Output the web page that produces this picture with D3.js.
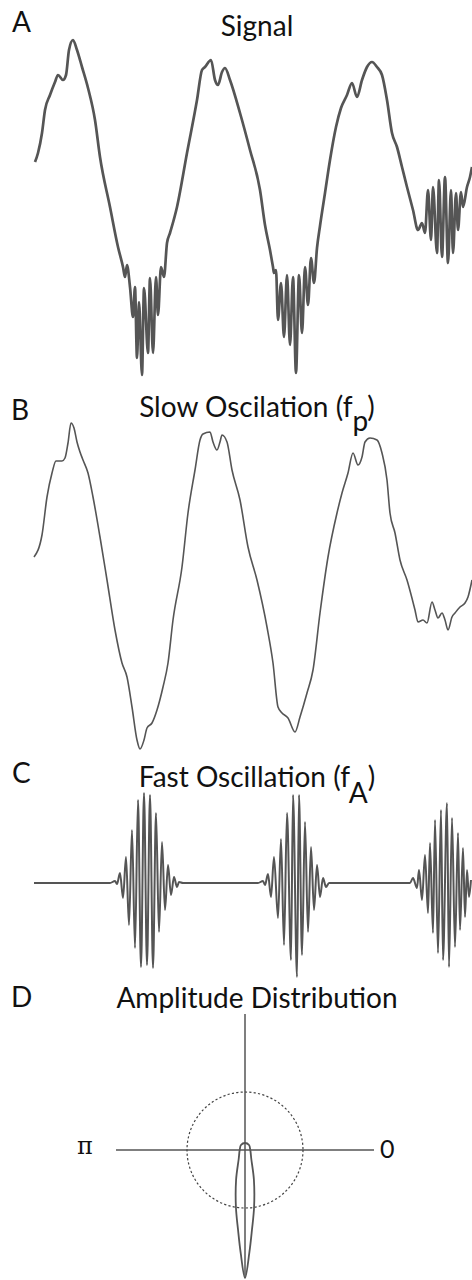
<!DOCTYPE html>
<html>
<head>
<meta charset="utf-8">
<script src="https://cdn.jsdelivr.net/npm/d3@7"></script>
<style>
  body { margin: 0; background: #fff; }
  svg { display: block; }
  .panel-letter { font-family: Lato, "Open Sans", sans-serif; font-size: 28px; fill: #111; }
  .panel-title { font-family: Lato, "Open Sans", sans-serif; font-size: 28px; fill: #111; text-anchor: middle; }
  .trace { fill: none; stroke: #555; stroke-linejoin: round; }
</style>
</head>
<body>
<div id="chart"></div>
<script>
// ---- data (time in samples, amplitude in arbitrary units) ----

// A: raw signal
const signalT = [1, 4, 8, 11, 16, 21, 24, 29, 32, 35, 39, 43, 48, 54, 61, 66, 76, 84, 89, 91, 93,
  96, 99, 101, 103, 105, 108, 110, 114, 116, 119, 122, 124, 127, 130, 133, 136, 143, 153, 163, 168,
  171, 177, 181, 184, 188, 191, 196, 206, 216, 226, 231, 236, 239, 240, 242, 244, 247, 250, 253,
  256, 259, 262, 265, 268, 271, 274, 277, 280, 283, 286, 291, 296, 302, 307, 313, 318, 323, 328,
  333, 338, 343, 348, 353, 358, 363, 368, 373, 379, 384, 388, 391, 394, 397, 399, 403, 405, 408,
  411, 414, 417, 419, 422, 424, 427, 429, 433, 436, 438];
const signalV = [45, 54, 74, 97, 112, 125, 132, 127, 132, 157, 167, 157, 140, 119, 87, 50, 0, -40, -60, -70, -58,
  -80, -110, -80, -151, -95, -168, -81, -146, -71, -146, -70, -108, -60, -70, -36, -26, 0, 54, 107, 137,
  140, 147, 127, 122, 135, 139, 127, 94, 57, 17, -18, -43, -60, -66, -63, -113, -76, -130, -68,
  -138, -70, -166, -68, -126, -60, -98, -51, -76, -41, -19, 14, 47, 80, 99, 112, 124, 110, 127,
  140, 145, 140, 132, 107, 74, 60, 40, 20, -3, -23, -16, -26, 17, -33, 20, -46, 27, -50,
  30, -56, 17, -46, 14, -23, 15, 0, 20, 30, 40];

// B: slow oscillation (f_p)
const slowT = [0, 8, 13, 18, 22, 28, 31, 34, 37, 40, 43, 46, 49, 54, 59, 66, 73, 81, 88, 93, 98, 103,
  106, 110, 113, 118, 123, 129, 134, 139, 148, 154, 161, 166, 169, 176, 179, 183, 186, 188, 193,
  198, 206, 214, 223, 233, 239, 244, 248, 254, 261, 266, 273, 279, 286, 294, 303, 308, 314, 319,
  324, 328, 331, 336, 343, 348, 353, 356, 361, 366, 373, 381, 384, 389, 393, 398, 401, 404, 408,
  411, 414, 418, 421, 426, 431, 434, 438];
const slowV = [29, 51, 89, 113, 125, 125, 128, 143, 163, 158, 144, 134, 126, 113, 89, 49, 6, -44, -77, -91, -121, -154,
  -163, -154, -142, -137, -124, -101, -77, -34, 19, 73, 116, 146, 152, 154, 144, 136, 144, 151, 144,
  116, 86, 39, 6, -41, -77, -121, -127, -132, -146, -131, -107, -84, -27, 29, 73, 93, 113, 133,
  121, 129, 144, 148, 146, 133, 106, 73, 53, 26, 6, -24, -36, -34, -37, -16, -24, -32, -27,
  -34, -44, -31, -27, -21, -17, -11, 6];

// C: fast oscillation (f_A)
const fastT = [0, 76, 81, 83, 86, 89, 92, 95, 98, 101, 104, 107, 110, 113, 116, 119, 122, 125, 128, 131,
  134, 137, 140, 143, 145, 149, 224, 229, 231, 234, 237, 240, 244, 247, 250, 253, 257, 259, 263,
  265, 268, 271, 274, 277, 280, 283, 286, 289, 292, 295, 374, 376, 379, 383, 385, 388, 391, 394,
  396, 399, 401, 404, 407, 409, 413, 415, 418, 421, 424, 426, 429, 431, 433, 435, 437];
const fastV = [0, 0, 2, -1, 10, -15, 26, -42, 53, -65, 83, -84, 90, -82, 88, -85, 70, -49, 41, -27,
  18, -12, 6, -4, 1, 0, 0, 2, -2, 9, -14, 26, -35, 44, -62, 70, -77, 88, -94,
  88, -72, 61, -49, 36, -27, 18, -14, 5, -4, 0, 0, 0, 5, -5, 13, -17, 28, -30,
  40, -50, 63, -70, 73, -77, 80, -84, 65, -64, 50, -47, 35, -34, 13, -14, 3];

// D: amplitude distribution over phase (degrees), plus mean amplitude
const phaseDeg = [-90, -87.6, -85, -81, -73.3, -55, 0, 51, 90, 129, 180, 235, 253.3, 261, 265, 267.6];
const ampByPhase = [128, 103, 80, 58, 31, 11, 5.3, 6.4, 7, 6.4, 5.3, 11, 31, 58, 80, 103];
const meanAmp = 58;
const phaseLabels = ["π", "0"];

// ---- drawing ----
const width = 472, height = 1280;
const svg = d3.select('#chart').append('svg')
  .attr('width', width)
  .attr('height', height);

const x = d3.scaleLinear().domain([0, 438]).range([34, 472]);

function trace(tArr, vArr, y, sw) {
  const line = d3.line()
    .x(d => x(d[0]))
    .y(d => y(d[1]))
    .curve(d3.curveMonotoneX);
  svg.append('path')
    .attr('class', 'trace')
    .attr('stroke-width', sw)
    .attr('d', line(d3.zip(tArr, vArr)));
}

function header(letter, lx, ly, title, sub, ty, subDy) {
  svg.append('text').attr('class', 'panel-letter')
    .attr('x', lx).attr('y', ly).text(letter);
  const t = svg.append('text').attr('class', 'panel-title')
    .attr('x', 257).attr('y', ty);
  t.append('tspan').text(title);
  if (sub) {
    t.append('tspan').attr('dy', subDy).text(sub);
    t.append('tspan').attr('dy', -subDy).text(')');
  }
}

// A
header('A', 12, 32, 'Signal', null, 36);
const yA = d3.scaleLinear().domain([-200, 200]).range([407, 7]);
trace(signalT, signalV, yA, 2.7);

// B
header('B', 11, 420, 'Slow Oscilation (f', 'p', 417, 14);
const yB = d3.scaleLinear().domain([-200, 200]).range([786, 386]);
trace(slowT, slowV, yB, 1.6);

// C
header('C', 12, 783, 'Fast Oscillation (f', 'A', 787, 16);
const yC = d3.scaleLinear().domain([-200, 200]).range([1083, 683]);
trace(fastT, fastV, yC, 2);

// D: polar plot
header('D', 11, 1007, 'Amplitude Distribution', null, 1008);
const cx = 245, cy = 1150;
const r = d3.scaleLinear().domain([0, 128]).range([0, 128]);
const polar = svg.append('g').attr('transform', `translate(${cx},${cy})`);

polar.append('line')
  .attr('x1', -r(129)).attr('x2', r(129)).attr('y1', 0).attr('y2', 0)
  .attr('stroke', '#555').attr('stroke-width', 1.5);
polar.append('line')
  .attr('x1', 0).attr('x2', 0).attr('y1', -r(136)).attr('y2', r(128))
  .attr('stroke', '#555').attr('stroke-width', 1.5);

polar.append('circle')
  .attr('r', r(meanAmp))
  .attr('fill', 'none')
  .attr('stroke', '#444')
  .attr('stroke-width', 1.2)
  .attr('stroke-dasharray', '2.2,2.2');

const lobe = d3.lineRadial()
  .angle(d => Math.PI / 2 - d[0] * Math.PI / 180)
  .radius(d => r(d[1]))
  .curve(d3.curveCatmullRomClosed.alpha(0.5));
polar.append('path')
  .attr('d', lobe(d3.zip(phaseDeg, ampByPhase)))
  .attr('fill', 'none')
  .attr('stroke', '#555')
  .attr('stroke-width', 1.8);

polar.append('text')
  .attr('x', -160).attr('y', 4)
  .attr('text-anchor', 'middle')
  .style('font-family', '"DejaVu Serif", serif')
  .style('font-size', '24px')
  .attr('fill', '#111')
  .text(phaseLabels[0]);
polar.append('text')
  .attr('x', 135).attr('y', 8)
  .style('font-family', 'Lato, "Open Sans", sans-serif')
  .style('font-size', '25px')
  .attr('fill', '#111')
  .text(phaseLabels[1]);
</script>
</body>
</html>
